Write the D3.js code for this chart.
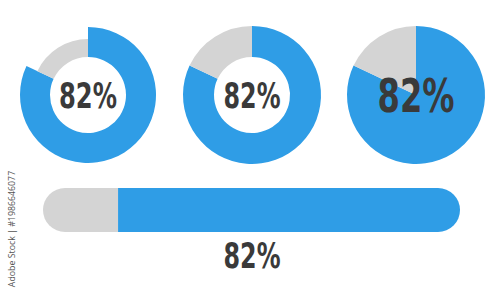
<!DOCTYPE html>
<html>
<head>
<meta charset="utf-8">
<script src="https://cdn.jsdelivr.net/npm/d3@7"></script>
<style>
  html, body { margin: 0; padding: 0; background: #fff; }
  svg { display: block; }
</style>
</head>
<body>
<svg id="chart" width="500" height="292"></svg>
<script>
// data
var percent = 82;
var parts = [percent, 100 - percent];        // done, remaining
var label = percent + '%';
var credit = 'Adobe Stock | #1986646077';

var blue = '#2f9de6', grey = '#d4d4d4', ink = '#3a3a3a';
var font = '"DejaVu Sans Condensed", "DejaVu Sans", sans-serif';

var svg = d3.select('#chart');

var pie = d3.pie().sort(null).value(d => d);
var slices = pie(parts);

// three round gauges
var gauges = [
    { cx: 88,  r: 68, rg: 56, ri: 38, fs: 36, w: 58, base: 108 },
    { cx: 252, r: 69, rg: 69, ri: 38, fs: 36, w: 57, base: 108 },
    { cx: 416, r: 69, rg: 69, ri: 0,  fs: 47, w: 77, base: 112 }
];
var cy = 95;

function bigText(sel, fs, w) {
    sel.attr('text-anchor', 'middle')
        .attr('font-family', font)
        .attr('font-weight', 'bold')
        .attr('font-size', fs)
        .attr('textLength', w)
        .attr('lengthAdjust', 'spacingAndGlyphs')
        .attr('fill', ink)
        .text(label);
}

gauges.forEach(function (g) {
    var grp = svg.append('g').attr('transform', 'translate(' + g.cx + ',' + cy + ')');
    grp.selectAll('path').data(slices).enter().append('path')
        .attr('fill', (d, i) => i === 0 ? blue : grey)
        .attr('d', (d, i) => d3.arc().innerRadius(g.ri).outerRadius(i === 0 ? g.r : g.rg)(d));
    grp.append('text').attr('y', g.base - cy).call(bigText, g.fs, g.w);
});

// progress bar
var bx0 = 43, bx1 = 460, by = 188, bh = 44;
var scX = d3.scaleLinear().domain([0, 100]).range([bx0, bx1]);
var split = scX(100 - percent);

svg.append('defs').append('clipPath').attr('id', 'barclip').append('rect')
    .attr('x', bx0).attr('y', by).attr('width', bx1 - bx0).attr('height', bh)
    .attr('rx', bh / 2);

var bar = svg.append('g').attr('clip-path', 'url(#barclip)');
bar.append('rect')
    .attr('x', scX(0)).attr('y', by)
    .attr('width', split - scX(0)).attr('height', bh)
    .attr('fill', grey);
bar.append('rect')
    .attr('x', split).attr('y', by)
    .attr('width', scX(100) - split).attr('height', bh)
    .attr('fill', blue);

svg.append('text').attr('x', 252).attr('y', 268).call(bigText, 36, 57);

// side credit
svg.append('text')
    .attr('transform', 'translate(15,229) rotate(-90)')
    .attr('text-anchor', 'middle')
    .attr('font-family', '"Open Sans", sans-serif')
    .attr('font-size', 8.8)
    .attr('fill', '#555')
    .text(credit);
</script>
</body>
</html>
